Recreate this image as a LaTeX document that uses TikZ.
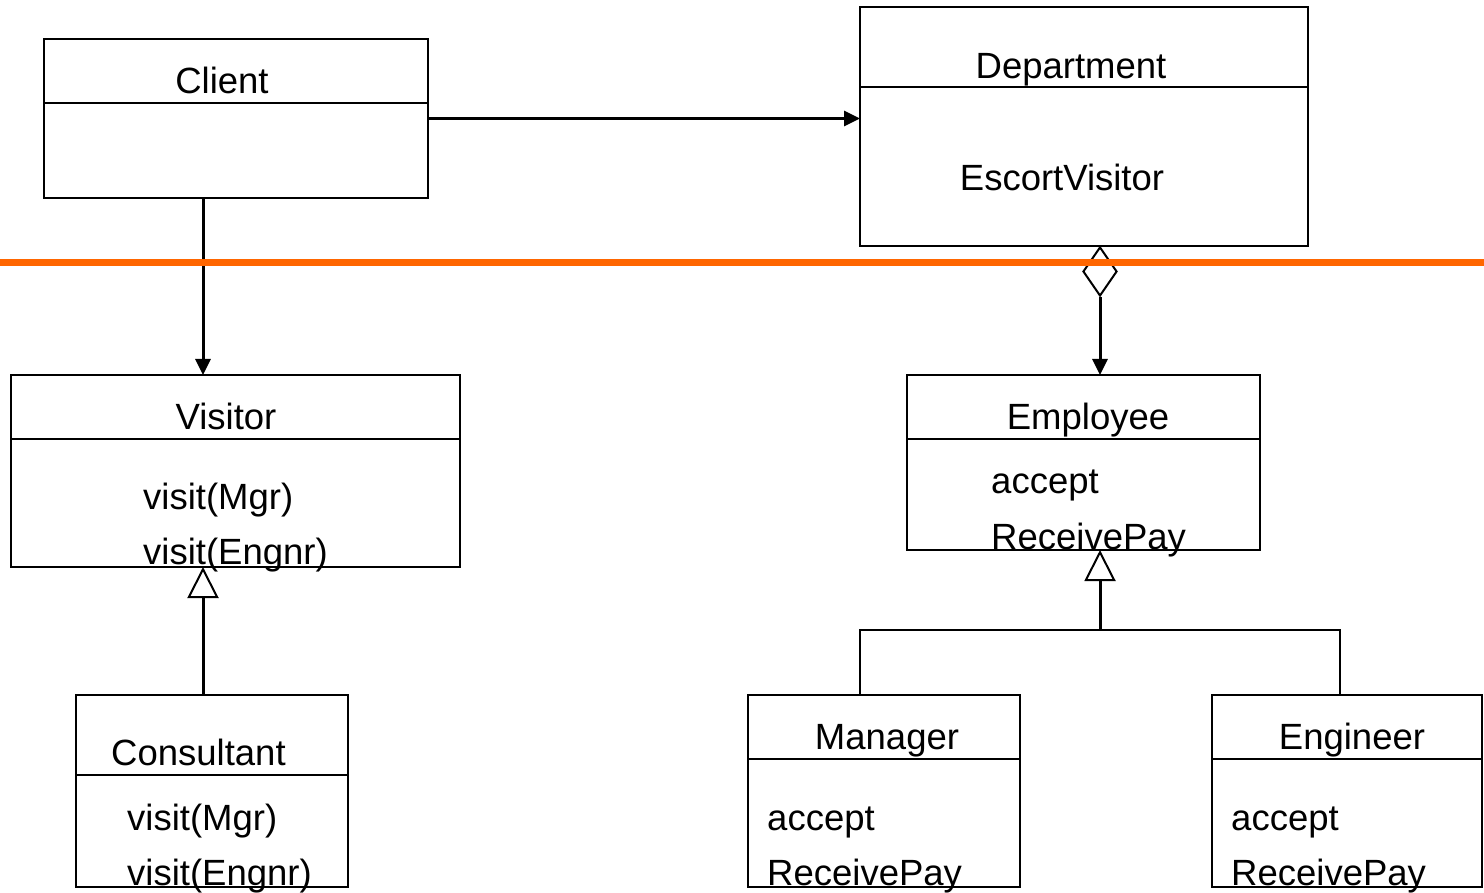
\documentclass[tikz,border=0pt]{standalone}
\usepackage{fontspec}
\setmainfont{Liberation Sans}
\usetikzlibrary{arrows.meta,shapes.geometric}
\definecolor{divider}{RGB}{255,102,0}
\tikzset{
  cls/.style={draw, line width=2pt, rectangle, inner sep=0pt, outer sep=0pt},
  sep/.style={line width=2pt},
  lbl/.style={anchor=base, inner sep=0pt, font=\fontsize{36.5}{43}\selectfont},
  lbll/.style={anchor=base west, inner sep=0pt, font=\fontsize{36.5}{43}\selectfont},
  assoc/.style={line width=3pt, -{Triangle[length=16pt,width=15pt]}},
  inherit/.style={line width=3pt, -{Triangle[open,length=31pt,width=31pt,line width=2pt]}},
  tree/.style={line width=2.5pt},
}
\begin{document}
\begin{tikzpicture}[x=1pt,y=-1pt]
\useasboundingbox (0,0) rectangle (1484,893);

% class boxes
\node[cls, minimum width=384, minimum height=159] (client) at (236,118.5) {};
\node[cls, minimum width=448, minimum height=239] (dept) at (1084,126.5) {};
\node[cls, minimum width=449, minimum height=192] (visitor) at (235.5,471) {};
\node[cls, minimum width=353, minimum height=175] (emp) at (1083.5,462.5) {};
\node[cls, minimum width=272, minimum height=192] (cons) at (212,791) {};
\node[cls, minimum width=272, minimum height=192] (mgr) at (884,791) {};
\node[cls, minimum width=270, minimum height=192] (eng) at (1347,791) {};

% compartment lines
\draw[sep] (client.west |- 0,103) -- (client.east |- 0,103);
\draw[sep] (dept.west |- 0,87) -- (dept.east |- 0,87);
\draw[sep] (visitor.west |- 0,439) -- (visitor.east |- 0,439);
\draw[sep] (emp.west |- 0,439) -- (emp.east |- 0,439);
\draw[sep] (cons.west |- 0,775) -- (cons.east |- 0,775);
\draw[sep] (mgr.west |- 0,759) -- (mgr.east |- 0,759);
\draw[sep] (eng.west |- 0,759) -- (eng.east |- 0,759);

% texts
\node[lbl] (tclient) at (222,94) {Client};
\node[lbl] (tdept) at (1071,79) {Department};
\node[lbl] (tesc) at (1062,191) {EscortVisitor};
\node[lbl] (tvis) at (226,429) {Visitor};
\node[lbll] (tv1) at (143,509) {visit(Mgr)};
\node[lbll] (tv2) at (143,564) {visit(Engnr)};
\node[lbl] (temp) at (1088,429) {Employee};
\node[lbll] (te1) at (991,493) {accept};
\node[lbll] (te2) at (991,549) {ReceivePay};
\node[lbll] (tcons) at (111,765) {Consultant};
\node[lbll] (tc1) at (127,830) {visit(Mgr)};
\node[lbll] (tc2) at (127,885) {visit(Engnr)};
\node[lbl] (tmgr) at (887,749) {Manager};
\node[lbll] (tm1) at (767,830) {accept};
\node[lbll] (tm2) at (767,885) {ReceivePay};
\node[lbl] (teng) at (1352,749) {Engineer};
\node[lbll] (tg1) at (1231,830) {accept};
\node[lbll] (tg2) at (1231,885) {ReceivePay};

% connector anchor columns
\coordinate (cx) at (203,0);
\coordinate (ex) at (1100,0);
\coordinate (mx) at (860,0);
\coordinate (gx) at (1340,0);
\coordinate (junc) at (1100,630);

% associations
\draw[assoc] (client.east) -- (client.east -| dept.west);
\draw[assoc] (client.south -| cx) -- (visitor.north -| cx);

% aggregation
\node[draw, line width=2pt, fill=white, diamond, shape aspect=0.7, inner sep=0pt,
      minimum width=34, minimum height=49, anchor=north] (agg) at (dept.south -| ex) {};
\draw[assoc] (agg.south) -- (emp.north -| ex);

% generalisations
\draw[inherit] (cons.north -| cx) -- (visitor.south -| cx);
\draw[tree] (mgr.north -| mx) |- (junc) -| (eng.north -| gx);
\draw[inherit] (junc) -- (emp.south -| ex);

% layer separator
\draw[divider, line width=7pt] (0,263) -- (1484,263);
\end{tikzpicture}
\end{document}
